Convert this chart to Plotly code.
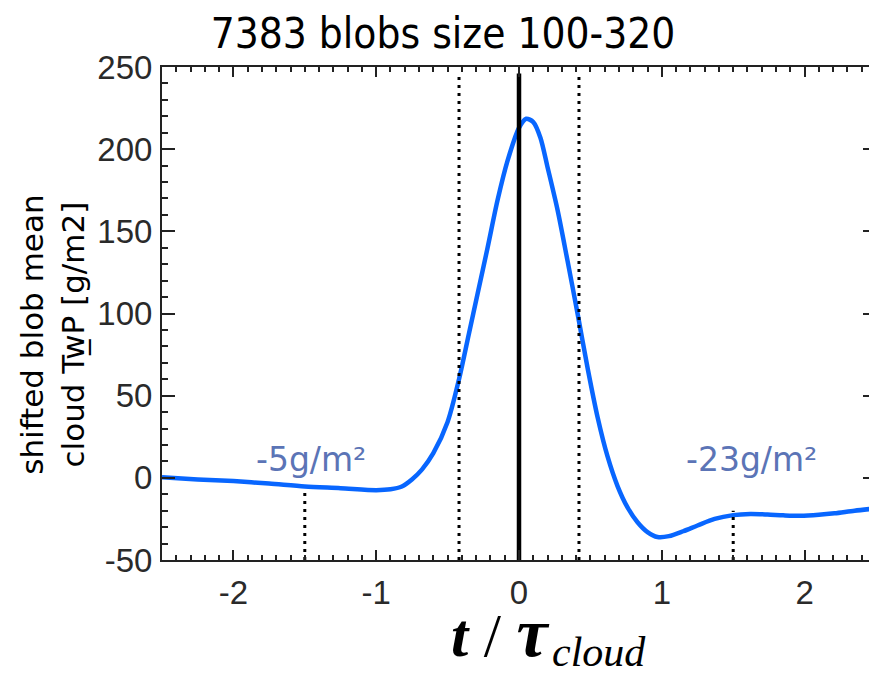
import plotly.graph_objects as go

# ---- data ----
t_norm = [-2.5, -2.25, -2.0, -1.75, -1.5, -1.25, -1.0, -0.9, -0.82, -0.75, -0.68, -0.6,
          -0.5, -0.42, -0.35, -0.29, -0.22, -0.15, -0.08, 0.0, 0.05, 0.1, 0.15, 0.2,
          0.27, 0.34, 0.41, 0.48, 0.55, 0.62, 0.69, 0.76, 0.83, 0.9, 0.97, 1.05, 1.15,
          1.25, 1.37, 1.5, 1.62, 1.74, 1.85, 1.97, 2.1, 2.21, 2.35, 2.5]
twp_mean = [0.3, -1.0, -2.0, -3.5, -5.3, -6.3, -7.5, -7.0, -5.3, -1.0, 5.0, 15.0,
            34.0, 60.0, 88.0, 112.0, 140.0, 169.0, 193.0, 213.0, 218.5, 216.5, 207.0, 189.0,
            163.0, 132.0, 100.0, 67.0, 37.0, 13.0, -5.0, -18.0, -27.0, -33.0, -36.0, -35.5, -32.5,
            -29.0, -25.0, -22.7, -22.0, -22.3, -22.8, -23.1, -22.5, -21.6, -20.0, -18.6]

marker_x = [-1.5, -0.42, 0.42, 1.5]          # dotted reference lines
marker_top = [-7.0, 247.0, 244.0, -20.0]
center_x = [0.0]                              # solid line at t=0
center_top = [246.0]
y_bottom = -50.0

x_tickvals = [-2, -1, 0, 1, 2]
x_ticktext = ["-2", "-1", "0", "1", "2"]
y_tickvals = [-50, 0, 50, 100, 150, 200, 250]
y_ticktext = ["-50", "0", "50", "100", "150", "200", "250"]

mean_labels = ["-5g/m²", "-23g/m²"]
mean_label_x = [-1.46, 1.63]
mean_label_y = [11.0, 11.0]

title_text = "7383 blobs size 100-320"
ytitle_text = "shifted blob mean<br>cloud Tw̲P [g/m2]"
xtitle_main = "<b><i>t</i></b> / <b><i><span style='font-size:70px'>τ</span></i></b>"
xtitle_sub = "<i>cloud</i>"

W, H = 869, 669   # page has an 8px body margin; figure fills the rest of the window
ML, MT, MB = 154, 59, 117
PW, PH = W - ML - 1, H - MT - MB


def px_x(p):   # page pixel -> paper x
    return (p - 8 - ML) / PW


def px_y(p):   # page pixel -> paper y
    return (H - MB - (p - 8)) / PH


fig = go.Figure()

fig.add_trace(go.Scatter(x=t_norm, y=twp_mean, mode="lines",
                         line=dict(color="#0866ff", width=4.5, shape="spline", smoothing=0.8),
                         showlegend=False, hoverinfo="skip"))

for xv, top in zip(marker_x, marker_top):
    fig.add_trace(go.Scatter(x=[xv, xv], y=[y_bottom, top], mode="lines",
                             line=dict(color="black", width=3, dash="3px,5px"),
                             showlegend=False, hoverinfo="skip"))
for xv, top in zip(center_x, center_top):
    fig.add_trace(go.Scatter(x=[xv, xv], y=[y_bottom, top], mode="lines",
                             line=dict(color="black", width=4.5),
                             showlegend=False, hoverinfo="skip"))

axis_common = dict(showline=True, linecolor="#222", linewidth=2, mirror="allticks",
                   ticks="inside", tickcolor="#222", tickwidth=2,
                   showgrid=False, zeroline=False,
                   tickfont=dict(family="Liberation Sans, Arial, sans-serif", size=33, color="#2a2a2a"))

fig.update_xaxes(range=[-2.5, 2.5], tickvals=x_tickvals, ticktext=x_ticktext, ticklen=10,
                 ticklabelstandoff=2,
                 minor=dict(dtick=0.1, tick0=0, ticks="inside", ticklen=5, tickwidth=1.5, tickcolor="#222"),
                 **axis_common)
fig.update_yaxes(range=[-50, 250], tickvals=y_tickvals, ticktext=y_ticktext, ticklen=13,
                 ticklabelstandoff=1,
                 minor=dict(dtick=10, tick0=0, ticks="inside", ticklen=6, tickwidth=1.5, tickcolor="#222"),
                 **axis_common)

for txt, xv, yv in zip(mean_labels, mean_label_x, mean_label_y):
    fig.add_annotation(x=xv, y=yv, xref="x", yref="y", text=txt, showarrow=False,
                       font=dict(family="DejaVu Sans, sans-serif", size=33, color="#5b74b6"),
                       xanchor="center", yanchor="middle")

# y-axis title
fig.add_annotation(x=px_x(52), y=0.457, xref="paper", yref="paper", text=ytitle_text,
                   textangle=-90, showarrow=False, align="center",
                   font=dict(family="DejaVu Sans, sans-serif", size=31, color="black"),
                   xanchor="center", yanchor="middle")

# x-axis title: main part and subscript placed separately
fig.add_annotation(x=px_x(449), y=px_y(657 + 16), xref="paper", yref="paper",
                   text=xtitle_main, showarrow=False,
                   font=dict(family="Liberation Serif, Times New Roman, serif", size=62, color="black"),
                   xanchor="left", yanchor="bottom")
fig.add_annotation(x=px_x(550), y=px_y(677), xref="paper", yref="paper",
                   text=xtitle_sub, showarrow=False,
                   font=dict(family="Liberation Serif, Times New Roman, serif", size=42, color="black"),
                   xanchor="left", yanchor="bottom")

fig.update_layout(
    width=W, height=H,
    margin=dict(l=ML, r=1, t=MT, b=MB, autoexpand=False),
    paper_bgcolor="white", plot_bgcolor="white",
    title=dict(text=title_text, x=(443 - 8) / W, xref="container", xanchor="center",
               y=1 - 25.5 / H, yref="container", yanchor="middle",
               font=dict(family="DejaVu Sans Condensed, DejaVu Sans, sans-serif", size=42, color="black")),
)

fig.write_html("out.html")
